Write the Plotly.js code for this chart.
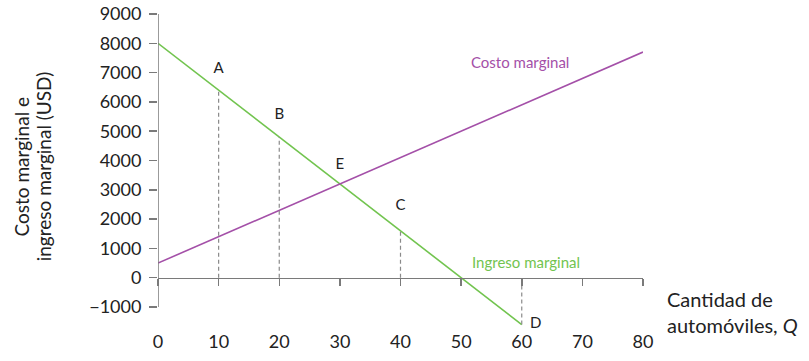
<!DOCTYPE html>
<html><head><meta charset="utf-8">
<script src="https://cdn.plot.ly/plotly-3.0.1.min.js"></script>
<style>body{margin:0;background:#fff}#c{width:809px;height:361px}</style>
</head><body><div id="c"></div>
<script>
// Marginal revenue and marginal cost lines (quantity, USD)
const mrQ = [0, 60];
const mrP = [8000, -1600];
const mcQ = [0, 80];
const mcP = [500, 7700];
// Dashed drop lines
const dropQ = [10, 20, 40, 60];
const dropTop = [6400, 4800, 1600, 0];
const dropBottom = [0, 0, 0, -1600];
// Point labels
const ptText = ['A', 'B', 'E', 'C', 'D'];
const ptQ = [10, 20, 30, 40, 62.3];
const ptP = [7100, 5550, 3850, 2450, -1600];
// Axis ticks
const xTicks = [0, 10, 20, 30, 40, 50, 60, 70, 80];
const yTicks = [-1000, 0, 1000, 2000, 3000, 4000, 5000, 6000, 7000, 8000, 9000];
const yMin = -1000, yMax = 9000, yRangeLow = -1750;

const green = '#72c44f', purple = '#a450a8', grey = '#7a7a7a';
const font = 'Lato, Noto Sans, sans-serif';

const dx = [], dy = [];
dropQ.forEach((q, i) => { dx.push(q, q, null); dy.push(dropBottom[i], dropTop[i], null); });

const traces = [
  {x: dx, y: dy, mode: 'lines', line: {color: '#8a8a8a', width: 1.2, dash: '4px,3px'}, xaxis: 'x2', hoverinfo: 'skip'},
  {x: mrQ, y: mrP, mode: 'lines', line: {color: green, width: 1.6}},
  {x: mcQ, y: mcP, mode: 'lines', line: {color: purple, width: 1.6}},
  {x: ptQ, y: ptP, mode: 'text', text: ptText, textposition: 'middle center',
   textfont: {family: font, size: 15, color: '#222'}}
];

const layout = {
  width: 809, height: 361,
  margin: {l: 158, r: 166, t: 14, b: 32},
  showlegend: false,
  paper_bgcolor: '#fff', plot_bgcolor: '#fff',
  font: {family: font, color: '#222'},
  xaxis: {
    range: [0, 80], tickvals: xTicks, ticktext: xTicks.map(String),
    showline: false, showgrid: false, zeroline: false, ticks: '',
    ticklabelstandoff: 0, tickfont: {size: 18, family: font, color: '#222'}
  },
  xaxis2: {
    range: [0, 80], overlaying: 'x', anchor: 'free',
    position: (0 - yRangeLow) / (yMax - yRangeLow),
    tickvals: xTicks, showticklabels: false, showgrid: false, zeroline: false,
    showline: true, linecolor: grey, linewidth: 1.5,
    ticks: 'outside', ticklen: 7, tickcolor: grey, tickwidth: 1.5
  },
  yaxis: {
    range: [yRangeLow, yMax], tickvals: yTicks, showgrid: false, zeroline: false,
    showline: false,
    ticks: 'outside', ticklen: 8, tickcolor: grey, tickwidth: 1.5,
    ticklabelstandoff: 4,
    tickfont: {size: 18, family: font, color: '#222'}
  },
  shapes: [
    {type: 'line', xref: 'x', yref: 'y', x0: 0, x1: 0, y0: yMin, y1: yMax,
     line: {color: grey, width: 1.5}}
  ],
  annotations: [
    {xref: 'x', yref: 'y', x: 59.7, y: 7350, text: 'Costo marginal', showarrow: false,
     font: {size: 15, family: font, color: purple}},
    {xref: 'x', yref: 'y', x: 60.7, y: 520, text: 'Ingreso marginal', showarrow: false,
     font: {size: 15, family: font, color: green}},
    {xref: 'paper', yref: 'paper', x: 1.045, y: 0.054, xanchor: 'left', yanchor: 'middle', align: 'left',
     text: 'Cantidad de<br>automóviles, <i>Q</i>', showarrow: false,
     font: {size: 20, family: font, color: '#222'}},
    {xref: 'paper', yref: 'paper', x: -0.281, y: 0.515, xanchor: 'center', yanchor: 'middle',
     text: 'Costo marginal e', textangle: -90, showarrow: false,
     font: {size: 19, family: font, color: '#222'}},
    {xref: 'paper', yref: 'paper', x: -0.236, y: 0.515, xanchor: 'center', yanchor: 'middle',
     text: 'ingreso marginal (USD)', textangle: -90, showarrow: false,
     font: {size: 19, family: font, color: '#222'}}
  ]
};

Plotly.newPlot('c', traces, layout, {displayModeBar: false, staticPlot: true});
</script></body></html>
